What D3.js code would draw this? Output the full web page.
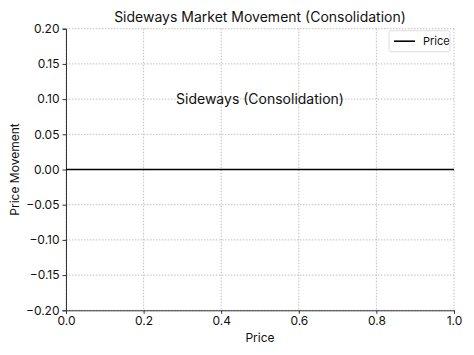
<!DOCTYPE html>
<html>
<head>
<meta charset="utf-8">
<script src="https://cdn.jsdelivr.net/npm/d3@7"></script>
<style>
    body { margin: 0; background: #fff; }
    svg text { font-family: Inter, "Open Sans", sans-serif; fill: #111; }
</style>
</head>
<body>
<div id="chart"></div>
<script>
// data
const priceX = [0, 1];
const priceY = [0, 0];
const xTicks = [0, 0.2, 0.4, 0.6, 0.8, 1.0];
const yTicks = [-0.20, -0.15, -0.10, -0.05, 0.00, 0.05, 0.10, 0.15, 0.20];
const seriesName = 'Price';
const chartTitle = 'Sideways Market Movement (Consolidation)';
const noteText = 'Sideways (Consolidation)';
const notePos = [0.5, 0.1];

const width = 474, height = 355;
const margin = { top: 28.7, right: 20, bottom: 45, left: 66 };
const plotW = 454 - margin.left;
const plotH = 310.3 - margin.top;

const svg = d3.select('#chart').append('svg')
    .attr('width', width)
    .attr('height', height);

const g = svg.append('g')
    .attr('transform', `translate(${margin.left},${margin.top})`);

const x = d3.scaleLinear().domain([0, 1]).range([0, plotW]);
const y = d3.scaleLinear().domain([-0.2, 0.2]).range([plotH, 0]);

// grid
g.append('g').selectAll('line')
    .data(xTicks)
    .enter().append('line')
    .attr('x1', d => x(d)).attr('x2', d => x(d))
    .attr('y1', 0).attr('y2', plotH)
    .attr('stroke', '#b0b0b0')
    .attr('stroke-width', 0.8)
    .attr('stroke-dasharray', '1.5,1.5');

g.append('g').selectAll('line')
    .data(yTicks)
    .enter().append('line')
    .attr('x1', 0).attr('x2', plotW)
    .attr('y1', d => y(d)).attr('y2', d => y(d))
    .attr('stroke', '#b0b0b0')
    .attr('stroke-width', 0.8)
    .attr('stroke-dasharray', '1.5,1.5');

// axes
const xAxis = g.append('g')
    .attr('transform', `translate(0,${plotH})`)
    .call(d3.axisBottom(x).tickValues(xTicks).tickFormat(d3.format('.1f')).tickSizeOuter(0).tickSize(3.5).tickPadding(3));

const yAxis = g.append('g')
    .call(d3.axisLeft(y).tickValues(yTicks).tickFormat(d => d3.format('.2f')(d).replace('-', '\u2212')).tickSizeOuter(0).tickSize(3.5).tickPadding(3));

[xAxis, yAxis].forEach(a => {
    a.select('.domain').attr('stroke', '#333').attr('stroke-width', 1);
    a.selectAll('.tick line').attr('stroke', '#333');
    a.selectAll('.tick text').style('font-size', '12px').attr('fill', '#111');
});

// series
const line = d3.line()
    .x((d, i) => x(priceX[i]))
    .y(d => y(d));

g.append('path')
    .datum(priceY)
    .attr('d', line)
    .attr('fill', 'none')
    .attr('stroke', '#000')
    .attr('stroke-width', 1.6);

// annotation
g.append('text')
    .attr('x', x(notePos[0]))
    .attr('y', y(notePos[1]))
    .attr('text-anchor', 'middle')
    .attr('dy', '0.35em')
    .style('font-size', '14px')
    .text(noteText);

// title + labels
svg.append('text')
    .attr('x', margin.left + plotW / 2)
    .attr('y', 22)
    .attr('text-anchor', 'middle')
    .style('font-size', '14px')
    .text(chartTitle);

svg.append('text')
    .attr('x', margin.left + plotW / 2)
    .attr('y', 342)
    .attr('text-anchor', 'middle')
    .style('font-size', '12px')
    .text('Price');

svg.append('text')
    .attr('transform', `translate(19,${margin.top + plotH / 2}) rotate(-90)`)
    .attr('text-anchor', 'middle')
    .style('font-size', '12px')
    .text('Price Movement');

// legend
const legend = g.append('g')
    .attr('transform', `translate(${plotW - 65},2)`);

legend.append('rect')
    .attr('width', 61)
    .attr('height', 21)
    .attr('rx', 2)
    .attr('fill', '#fff')
    .attr('stroke', '#ddd');

legend.append('line')
    .attr('x1', 5).attr('x2', 26)
    .attr('y1', 10.5).attr('y2', 10.5)
    .attr('stroke', '#000')
    .attr('stroke-width', 1.6);

legend.append('text')
    .attr('x', 34)
    .attr('y', 10.5)
    .attr('dy', '0.35em')
    .style('font-size', '11px')
    .text(seriesName);
</script>
</body>
</html>
